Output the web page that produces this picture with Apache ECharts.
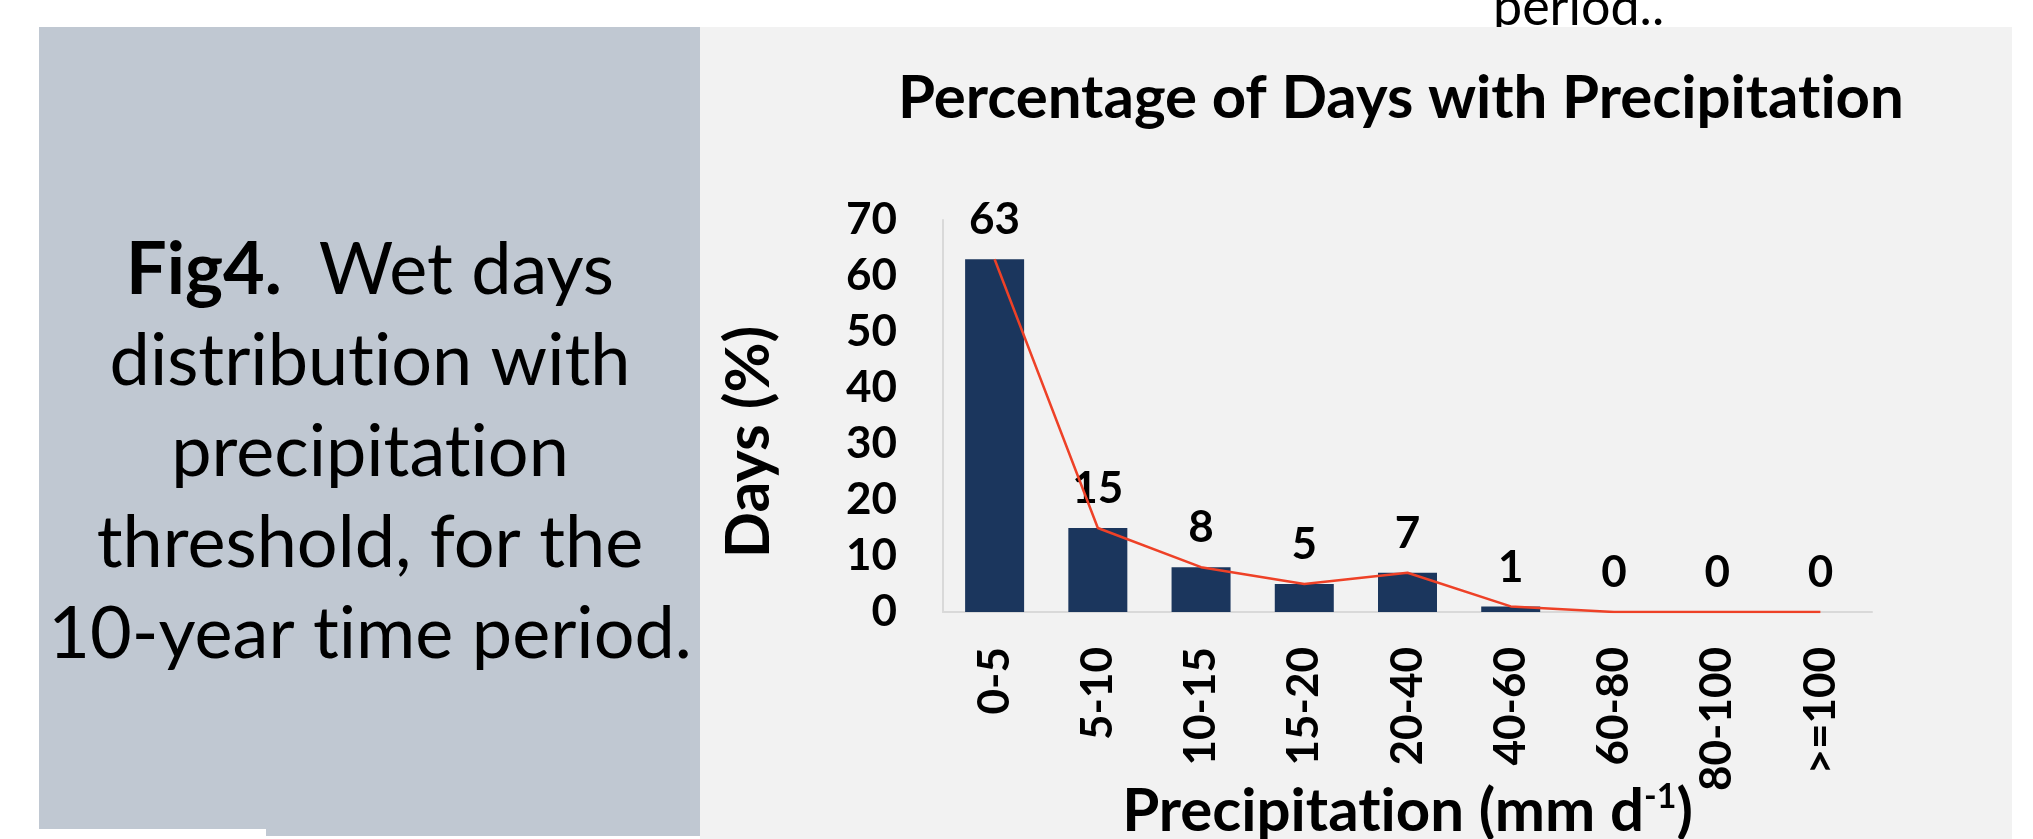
<!DOCTYPE html>
<html>
<head>
<meta charset="utf-8">
<title>Percentage of Days with Precipitation</title>
<script src="https://cdn.jsdelivr.net/npm/echarts@6/dist/echarts.min.js"></script>
<style>
  html, body { margin: 0; padding: 0; background: #ffffff; }
  #chart { width: 2033px; height: 839px; }
</style>
</head>
<body>
<div id="chart"></div>
<script>
// Precipitation classes (mm per day) and share of wet days in each class
const categories = ['0-5', '5-10', '10-15', '15-20', '20-40', '40-60', '60-80', '80-100', '>=100'];
const dayPercent = [63, 15, 8, 5, 7, 1, 0, 0, 0];

// Value axis range
const yMin = 0;
const yMax = 70;
const yStep = 10;

const chartTitle = 'Percentage of Days with Precipitation';
const yName = 'Days (%)';
const captionLines = ['{b|Fig4.}  Wet days', 'distribution with', 'precipitation', 'threshold, for the', '10-year time period.'];

const FONT = 'Lato, "Open Sans", "Noto Sans", sans-serif';

// Plain glyph shaping (no discretionary ligatures such as "ti")
(function () {
  const proto = CanvasRenderingContext2D.prototype;
  ['fillText', 'strokeText', 'measureText'].forEach(function (fn) {
    const orig = proto[fn];
    proto[fn] = function () {
      if (this.textRendering !== undefined) this.textRendering = 'optimizeSpeed';
      return orig.apply(this, arguments);
    };
  });
})();

const chart = echarts.init(document.getElementById('chart'), null, { renderer: 'canvas' });

chart.setOption({
  animation: false,
  backgroundColor: '#ffffff',
  title: {
    text: chartTitle,
    left: 898,
    top: 69,
    padding: 0,
    z: 20,
    textStyle: { fontFamily: FONT, fontWeight: 'bold', fontSize: 60, color: '#000000' }
  },
  graphic: [
    {
      type: 'text', z: -30, left: 1493, top: -18,
      style: { text: 'period..', font: '52px ' + FONT, fill: '#000000' }
    },
    {
      type: 'rect', z: -20, shape: { x: 39, y: 27, width: 661, height: 802 },
      style: { fill: '#c0c8d2' }
    },
    {
      type: 'rect', z: -20, shape: { x: 266, y: 826, width: 434, height: 10 },
      style: { fill: '#c0c8d2' }
    },
    {
      type: 'rect', z: -20, shape: { x: 700, y: 27, width: 1312, height: 812 },
      style: { fill: '#f2f2f2' }
    },
    {
      type: 'text', z: -10, x: 370, y: 225,
      style: {
        text: captionLines.join('\n'),
        fontFamily: FONT, fontSize: 72, fill: '#000000',
        align: 'center', verticalAlign: 'top', lineHeight: 91,
        rich: {
          b: { fontFamily: FONT, fontSize: 72, fontWeight: 'bold', fill: '#000000', lineHeight: 91 }
        }
      }
    }
  ],
  grid: { left: 943, right: 161, top: 220, bottom: 227, containLabel: false, outerBoundsMode: 'none' },
  xAxis: {
    type: 'category',
    data: categories,
    z: 10,
    axisLine: { show: true, lineStyle: { color: '#d9d9d9', width: 2 } },
    axisTick: { show: false },
    axisLabel: {
      rotate: 90, margin: 35, interval: 0,
      fontFamily: FONT, fontWeight: 'bold', fontSize: 44, color: '#000000'
    },
    name: '{n|Precipitation (mm d}{s|-1}{n|)}',
    nameLocation: 'middle',
    nameGap: 168,
    nameMoveOverlap: false,
    nameTextStyle: {
      rich: {
        n: { fontFamily: FONT, fontWeight: 'bold', fontSize: 60, color: '#000000', lineHeight: 64 },
        s: { fontFamily: FONT, fontWeight: 'bold', fontSize: 34, color: '#000000', verticalAlign: 'top', lineHeight: 40 }
      }
    }
  },
  yAxis: {
    type: 'value',
    min: yMin, max: yMax, interval: yStep,
    z: 10,
    axisLine: { show: true, lineStyle: { color: '#d9d9d9', width: 2 } },
    axisTick: { show: false },
    splitLine: { show: false },
    axisLabel: { margin: 46, fontFamily: FONT, fontWeight: 'bold', fontSize: 44, color: '#000000' },
    name: yName,
    nameLocation: 'middle',
    nameGap: 163,
    nameMoveOverlap: false,
    nameTextStyle: {
      fontFamily: FONT, fontWeight: 'bold', fontSize: 61, color: '#000000',
      padding: [0, 52, 0, 0]
    }
  },
  series: [
    {
      type: 'bar',
      data: dayPercent,
      barWidth: 59,
      itemStyle: { color: '#1b365d' },
      label: {
        show: true, position: 'top', distance: 17,
        fontFamily: FONT, fontWeight: 'bold', fontSize: 44, color: '#000000'
      },
      z: 12
    },
    {
      type: 'line',
      data: dayPercent,
      symbol: 'none',
      lineStyle: { color: '#ee4127', width: 2.5 },
      z: 13
    }
  ]
});
</script>
</body>
</html>
